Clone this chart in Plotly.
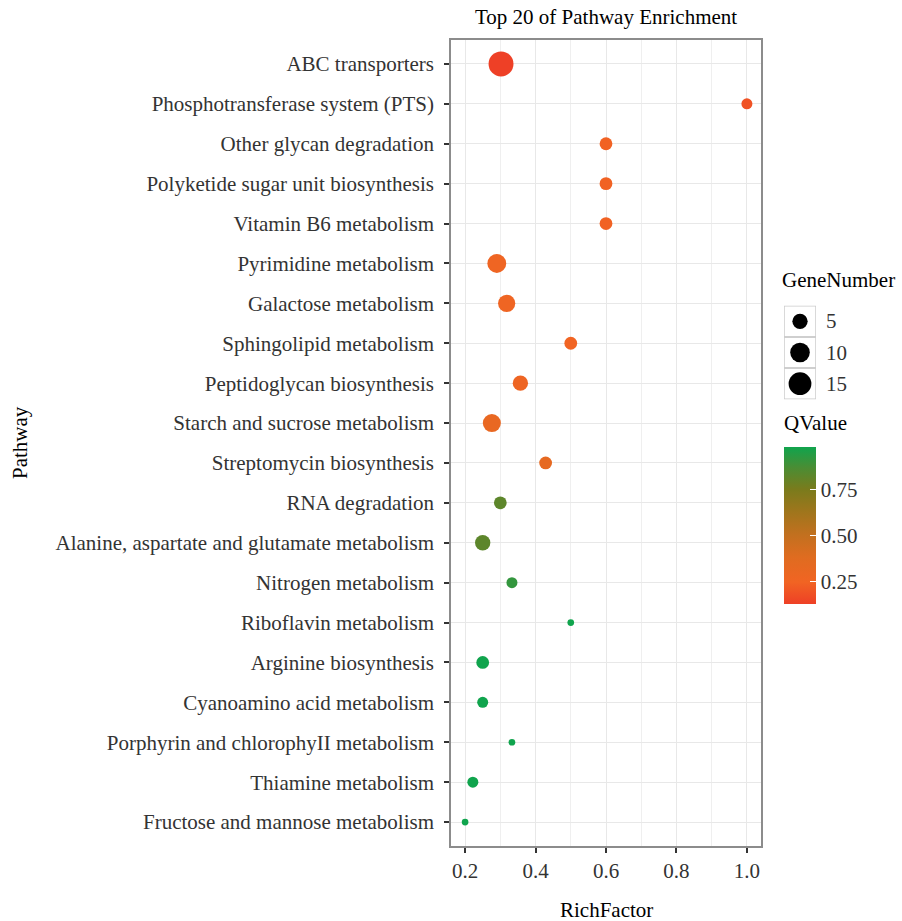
import numpy as np
import plotly.graph_objects as go

# ---------------- data ----------------
pathways = [
    "ABC transporters",
    "Phosphotransferase system (PTS)",
    "Other glycan degradation",
    "Polyketide sugar unit biosynthesis",
    "Vitamin B6 metabolism",
    "Pyrimidine metabolism",
    "Galactose metabolism",
    "Sphingolipid metabolism",
    "Peptidoglycan biosynthesis",
    "Starch and sucrose metabolism",
    "Streptomycin biosynthesis",
    "RNA degradation",
    "Alanine, aspartate and glutamate metabolism",
    "Nitrogen metabolism",
    "Riboflavin metabolism",
    "Arginine biosynthesis",
    "Cyanoamino acid metabolism",
    "Porphyrin and chlorophyII metabolism",
    "Thiamine metabolism",
    "Fructose and mannose metabolism",
]
rich_factor = [0.302, 1.0, 0.6, 0.6, 0.6, 0.29, 0.318, 0.5, 0.357, 0.276,
               0.4286, 0.3, 0.25, 0.333, 0.5, 0.25, 0.25, 0.333, 0.222, 0.2]
gene_number = [19, 2, 3, 3, 3, 9, 7, 3, 5, 8, 3, 3, 5, 2, 1, 3, 2, 1, 2, 1]
q_value = [0.129, 0.19, 0.24, 0.24, 0.24, 0.26, 0.26, 0.25, 0.27, 0.31,
           0.33, 0.82, 0.82, 0.91, 0.977, 0.977, 0.977, 0.977, 0.977, 0.977]

x_ticks = [0.2, 0.4, 0.6, 0.8, 1.0]
x_tick_labels = ["0.2", "0.4", "0.6", "0.8", "1.0"]
q_ticks = [0.25, 0.50, 0.75]
q_tick_labels = ["0.25", "0.50", "0.75"]
legend_genes = [5, 10, 15]
legend_labels = ["5", "10", "15"]

# ---------------- styling ----------------
FONT = "Liberation Serif"
FS = 21
colorscale = [
    [0.00, "#EE4026"],
    [0.14, "#F16423"],
    [0.30, "#DF6C20"],
    [0.44, "#C2701F"],
    [0.60, "#9C761C"],
    [0.73, "#7A7B1C"],
    [0.87, "#4A8D34"],
    [1.00, "#10A44D"],
]


def size_px(n):
    n = np.asarray(n, dtype=float)
    return 6.7 + 4.3 * np.sqrt(np.maximum(n - 1, 0))


# pixel geometry
W, H = 902, 921
ML, MR, MT, MB = 451, 0, 40, 75
PW, PH = W - ML - MR, H - MT - MB


def px(p):
    return (p - ML) / PW


def py(q):
    return (H - MB - q) / PH


fig = go.Figure()

fig.add_trace(go.Scatter(
    x=rich_factor, y=pathways, mode="markers",
    marker=dict(
        size=size_px(gene_number), color=q_value, colorscale=colorscale,
        line=dict(width=0), opacity=1,
        colorbar=dict(
            x=px(784), xanchor="left", y=py(525.7), yanchor="middle",
            thickness=32, len=157, lenmode="pixels", xpad=0, ypad=0,
            outlinewidth=0, tickvals=q_ticks, ticktext=q_tick_labels,
            ticks="inside", ticklen=6, tickcolor="white", tickwidth=1,
            tickfont=dict(family=FONT, size=FS, color="#333333"),
        ),
    ),
    showlegend=False, hoverinfo="x+y",
))

# size legend drawn on its own small axes
fig.add_trace(go.Scatter(
    x=[0.5] * len(legend_genes), y=[i + 0.5 for i in range(len(legend_genes))],
    mode="markers", xaxis="x2", yaxis="y2",
    marker=dict(size=size_px(legend_genes), color="#000000", opacity=1, line=dict(width=0)),
    showlegend=False, hoverinfo="skip",
))

shapes = []
for i in range(len(legend_genes)):
    shapes.append(dict(type="rect", xref="x2", yref="y2", x0=0, x1=1, y0=i, y1=i + 1,
                       line=dict(color="#CCCCCC", width=1.5), layer="below"))

annotations = []
for i, lab in enumerate(legend_labels):
    annotations.append(dict(xref="x2", yref="y2", x=1, y=i + 0.5, text=lab, showarrow=False,
                            xanchor="left", yanchor="middle", xshift=8,
                            font=dict(family=FONT, size=FS, color="#333333")))
annotations += [
    dict(xref="paper", yref="paper", x=px(782), y=py(280), text="GeneNumber", showarrow=False,
         xanchor="left", yanchor="middle", xshift=-2,
         font=dict(family=FONT, size=FS, color="black")),
    dict(xref="paper", yref="paper", x=px(782), y=py(423), text="QValue", showarrow=False,
         xanchor="left", yanchor="middle", font=dict(family=FONT, size=FS, color="black")),
    dict(xref="paper", yref="paper", x=px(606), y=py(910), text="RichFactor", showarrow=False,
         xanchor="center", yanchor="middle", font=dict(family=FONT, size=FS, color="black")),
    dict(xref="paper", yref="paper", x=px(20), y=py(443), text="Pathway", showarrow=False,
         textangle=-90, xanchor="center", yanchor="middle",
         font=dict(family=FONT, size=FS, color="black")),
    dict(xref="paper", yref="paper", x=px(606), y=py(17), text="Top 20 of Pathway Enrichment",
         showarrow=False, xanchor="center", yanchor="middle",
         font=dict(family=FONT, size=FS, color="black")),
]

main_dom = [0, px(761)]
fig.update_layout(
    width=W, height=H, margin=dict(l=ML, r=MR, t=MT, b=MB),
    plot_bgcolor="white", paper_bgcolor="white",
    font=dict(family=FONT, size=FS, color="#333333"),
    xaxis=dict(
        domain=main_dom, range=[0.16, 1.04], tickvals=x_ticks, ticktext=x_tick_labels,
        showgrid=True, gridcolor="#E8E8E8", gridwidth=1.2, zeroline=False,
        minor=dict(dtick=0.1, tick0=0.1, showgrid=True, gridcolor="#EFEFEF", gridwidth=0.9),
        showline=True, linecolor="#8C8C8C", linewidth=1.6, mirror=True,
        ticks="outside", ticklen=5, tickwidth=2, tickcolor="#333333",
        tickfont=dict(family=FONT, size=FS, color="#333333"),
    ),
    yaxis=dict(
        type="category", categoryorder="array", categoryarray=pathways[::-1],
        range=[-0.6, len(pathways) - 0.4],
        showgrid=True, gridcolor="#E8E8E8", gridwidth=1.2, zeroline=False,
        showline=True, linecolor="#8C8C8C", linewidth=1.6, mirror=True,
        ticks="outside", ticklen=5, tickwidth=2, tickcolor="#333333",
        ticklabelstandoff=6,
        tickfont=dict(family=FONT, size=FS, color="#333333"),
    ),
    xaxis2=dict(domain=[px(784), px(816)], range=[0, 1], visible=False, fixedrange=True,
                anchor="y2"),
    yaxis2=dict(domain=[py(399.3), py(305.7)], range=[3, 0], visible=False, fixedrange=True,
                anchor="x2"),
    shapes=shapes, annotations=annotations,
)

fig.write_html("out.html", config={"displayModeBar": False},
               post_script="document.body.style.margin='0';document.body.style.overflow='hidden';")
